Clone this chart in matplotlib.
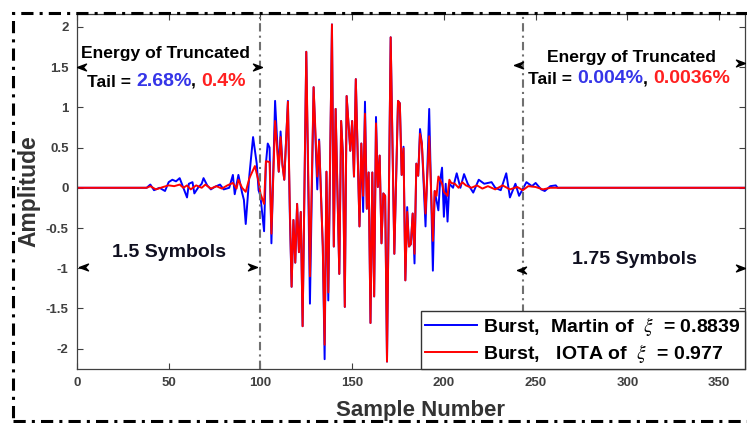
import numpy as np
import matplotlib
matplotlib.use("Agg")
import matplotlib.pyplot as plt
from matplotlib.patches import Rectangle

plt.rcParams['font.family'] = ['Liberation Sans', 'DejaVu Sans']
plt.rcParams['mathtext.fontset'] = 'stix'
plt.rcParams['axes.unicode_minus'] = False

# burst samples (sample index, amplitude at vertices)
red_x = [0, 38, 40, 43, 47, 50, 53, 56, 58, 60,
         62, 65, 68, 70, 73, 76, 79, 82, 85, 87,
         88, 90, 92, 94, 97, 99, 100, 102, 103, 105,
         106, 108, 110, 111, 112, 113, 115, 116, 117, 118,
         119, 120, 121, 122, 123, 125, 127, 129, 131, 132,
         134, 135, 136, 137, 139, 140, 141, 143, 144, 145,
         146, 147, 149, 150, 151, 152, 154, 155, 156, 157,
         158, 159, 160, 161, 162, 163, 164, 165, 166, 167,
         168, 169, 171, 173, 175, 176, 177, 178, 179, 180,
         181, 182, 183, 184, 185, 186, 187, 188, 190, 192,
         194, 195, 196, 197, 199, 200, 202, 203, 204, 206,
         208, 210, 212, 215, 218, 221, 224, 228, 232, 236,
         240, 243, 246, 250, 254, 258, 262, 364]
red_y = [0, 0, 0.02, -0.02, 0.01, 0.03, 0.02, 0.04, 0.0, 0.03,
         -0.02, 0.03, 0.0, 0.04, -0.01, 0.02, -0.01, 0.03, 0.06, -0.01,
         0.1, 0.0, -0.05, 0.12, 0.27, 0.08, -0.07, -0.2, 0.33, 0.32,
         -0.57, 0.83, 0.2, 0.63, 0.28, 0.1, 1.07, -0.2, -1.23, -0.4,
         -0.93, -0.2, -0.8, -0.3, -1.72, 1.69, -1.1, 1.25, 0.14, 0.58,
         -0.73, -1.95, 0.2, -1.3, 2.03, -0.73, 0.98, -1.07, 0.83, 0.4,
         -1.48, 1.14, 0.46, 0.83, 0.14, 1.35, -0.48, 0.55, -0.1, 0.92,
         -0.26, 0.19, -1.68, 0.19, -1.35, 0.8, 0.01, 0.4, -0.69, -0.07,
         -0.1, -2.16, 1.87, -0.82, 1.08, 1.05, 0.16, 0.49, -1.15, -0.3,
         -0.73, -0.7, -0.32, -0.82, 0.3, 0.15, 0.67, 0.55, -0.32, 0.64,
         -0.66, -0.04, -0.1, 0.14, 0.05, -0.05, -0.1, 0.1, 0.06, 0.05,
         0.0, 0.07, 0.03, 0.0, 0.03, -0.01, 0.02, -0.02, 0.03, -0.02,
         0.01, -0.03, 0.02, 0.01, -0.02, 0.0, 0.0, 0.0]

blue_x = [0, 38, 40, 42, 45, 48, 50, 52, 54, 56,
          58, 60, 61, 63, 64, 66, 68, 69, 71, 73,
          75, 78, 80, 83, 85, 86, 88, 90, 91, 92,
          94, 96, 98, 99, 100, 102, 103, 104, 105, 106,
          108, 110, 111, 112, 113, 115, 116, 117, 118, 119,
          120, 121, 122, 123, 125, 127, 129, 131, 132, 134,
          135, 136, 137, 139, 140, 141, 143, 144, 145, 146,
          147, 149, 150, 151, 152, 154, 155, 156, 157, 158,
          159, 160, 161, 162, 163, 164, 165, 166, 167, 168,
          169, 171, 173, 175, 176, 177, 178, 179, 180, 181,
          182, 183, 184, 185, 186, 187, 188, 190, 192, 194,
          195, 197, 198, 199, 200, 201, 202, 203, 205, 207,
          209, 211, 213, 216, 219, 222, 226, 228, 231, 234,
          236, 239, 241, 245, 248, 250, 253, 255, 258, 261,
          262, 364]
blue_y = [0, 0, 0.04, -0.03, 0.0, -0.04, 0.07, 0.1, 0.08, 0.12,
          0.0, -0.12, 0.05, 0.07, -0.07, 0.0, 0.05, 0.12, 0.03, -0.02,
          0.01, 0.04, -0.02, 0.0, 0.16, -0.08, 0.16, -0.06, -0.15, -0.45,
          0.16, 0.63, 0.3, -0.03, -0.1, -0.54, 0.3, 0.55, 0.5, -0.69,
          1.08, 0.2, 0.7, 0.3, 0.1, 1.08, -0.3, -1.23, -0.4, -0.93,
          -0.2, -0.8, -0.3, -1.72, 1.69, -1.44, 1.25, -0.02, 0.6, -0.73,
          -2.13, 0.2, -1.4, 2.03, -0.73, 0.98, -1.07, 0.83, 0.4, -1.48,
          1.14, 0.46, 0.83, 0.14, 1.35, -0.48, 0.55, -0.3, 1.07, -0.26,
          0.19, -1.68, 0.19, -1.35, 0.88, 0.01, 0.4, -0.69, -0.07, -0.1,
          -2.16, 1.87, -0.82, 1.08, 1.05, 0.16, 0.51, -1.15, -0.24, -0.73,
          -0.7, -0.32, -0.94, 0.3, 0.15, 0.73, 0.55, -0.48, 0.98, -1.03,
          -0.04, -0.28, 0.1, 0.25, -0.36, 0.05, -0.42, 0.05, 0.0, 0.18,
          0.0, 0.17, 0.05, -0.06, 0.1, 0.05, 0.07, 0.0, -0.03, 0.18,
          -0.12, 0.05, -0.1, 0.07, 0.02, 0.06, -0.02, -0.04, 0.02, 0.03,
          0.0, 0.0]

labels = ["Burst,  Martin of  $\\xi$  = 0.8839", "Burst,   IOTA of  $\\xi$  = 0.977"]
xticks = [0, 50, 100, 150, 200, 250, 300, 350]
yticks = [-2, -1.5, -1, -0.5, 0, 0.5, 1, 1.5, 2]
ytick_labels = ["-2", "-1.5", "-1", "-0.5", "0", "0.5", "1", "1.5", "2"]
cut_left, cut_right = 100, 243
tail_left = ("2.68%", "0.4%")
tail_right = ("0.004%", "0.0036%")

fig = plt.figure(figsize=(7.47, 4.23), dpi=100)
ax = fig.add_axes([0.103, 0.128, 0.894, 0.839])

ax.plot(blue_x, blue_y, color='#0000ff', lw=1.4, label=labels[0])
ax.plot(red_x, red_y, color='#ff0000', lw=1.4, label=labels[1])

for xc in (cut_left, cut_right):
    ax.axvline(xc, color='#707070', lw=1.5, ls=(0, (4, 2, 1, 2)))

ax.set_xlim(0, 364)
ax.set_ylim(-2.25, 2.16)
ax.set_xticks(xticks)
ax.set_yticks(yticks)
ax.set_yticklabels(ytick_labels)
ax.tick_params(direction='in', top=True, right=True, length=4, width=0.8,
               labelsize=9.5, colors='#404040', pad=6)
for lab in ax.get_xticklabels() + ax.get_yticklabels():
    lab.set_fontweight('bold')
for sp in ax.spines.values():
    sp.set_color('#404040')
    sp.set_linewidth(0.9)

ax.set_xlabel('Sample Number', fontsize=16, fontweight='bold', color='#333333')
ax.xaxis.set_label_coords(0.515, -0.088)
ax.set_ylabel('Amplitude', fontsize=16.5, fontweight='bold', color='#333333')
ax.yaxis.set_label_coords(-0.054, 0.5)

# arrowhead markers (tip at the origin)
head_l = [(0, 0), (2, 0.75), (1.3, 0), (2, -0.75), (0, 0)]
head_r = [(-x, y) for x, y in head_l]
for xa, ya, mk in [(0, 1.5, head_l), (101, 1.5, head_r), (238, 1.52, head_l), (364, 1.55, head_r),
                   (1, -0.99, head_l), (98, -0.99, head_r), (240, -1.02, head_l), (364, -1.0, head_r)]:
    ax.plot([xa], [ya], marker=mk, color='k', markersize=13, clip_on=False, zorder=5)

ax.text(48.5, 1.67, 'Energy of Truncated', ha='center', va='center', fontsize=12.6, fontweight='bold')
ax.text(302.5, 1.62, 'Energy of Truncated', ha='center', va='center', fontsize=12.6, fontweight='bold')


def tail_line(x0, y0, vals):
    t = ax.text(x0, y0, 'Tail = ', ha='left', va='center', color='k', fontsize=12.6, fontweight='bold')
    for s, c in [(vals[0], '#3535e8'), (', ', 'k'), (vals[1], '#ff2020')]:
        t = ax.annotate(s, xy=(1, 0), xycoords=t, ha='left', va='bottom', color=c,
                        fontsize=14 if c != 'k' else 12.6, fontweight='bold')


tail_line(5.5, 1.31, tail_left)
tail_line(246, 1.34, tail_right)

ax.text(50, -0.81, '1.5 Symbols', ha='center', va='center', color='#101020', fontsize=14, fontweight='bold')
ax.text(304, -0.89, '1.75 Symbols', ha='center', va='center', color='#101020', fontsize=14, fontweight='bold')

leg = ax.legend(loc='lower right', borderaxespad=0, prop={'weight': 'bold', 'size': 14},
                handlelength=2.7, handletextpad=0.3, labelspacing=0.22, borderpad=0.2,
                fancybox=False, framealpha=1, edgecolor='#333333')
leg.get_frame().set_linewidth(1.0)

# dash-dot frame around the figure
fig.patches.append(Rectangle((0.0174, 0.005), 1.2, 0.964, transform=fig.transFigure,
                             fill=False, ec='k', lw=2.2, ls=(0, (4, 2, 1, 2))))

fig.savefig('out.png', dpi=100)
